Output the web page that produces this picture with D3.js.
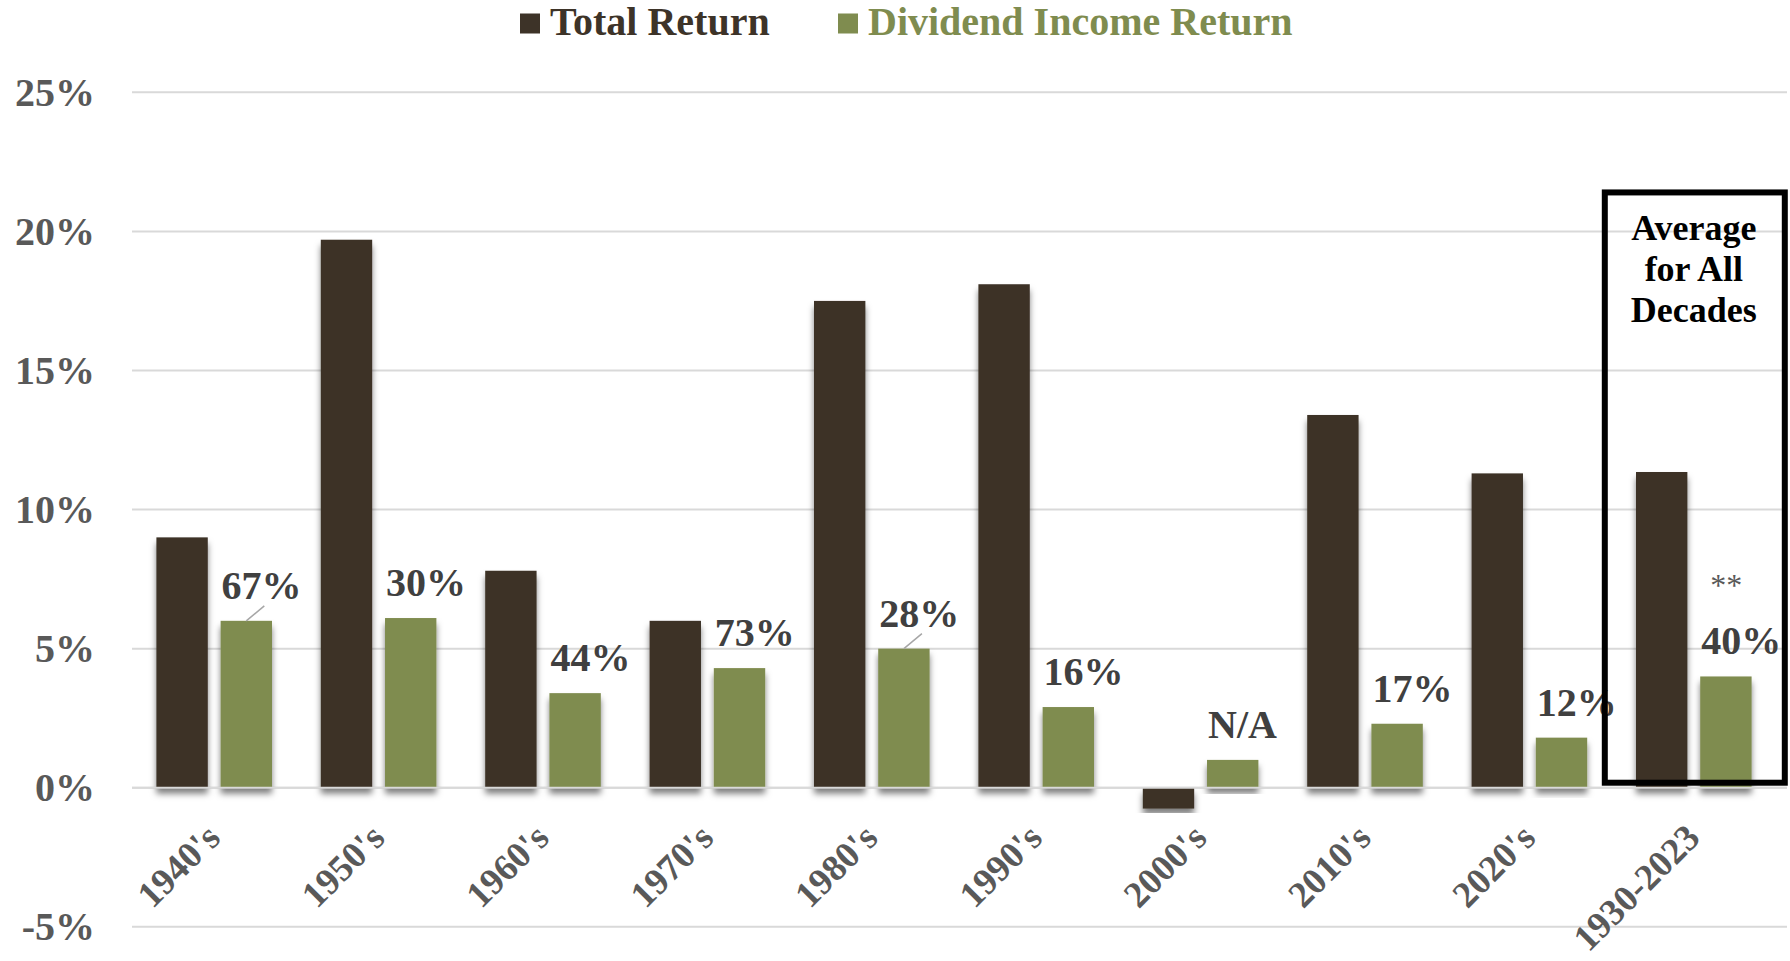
<!DOCTYPE html>
<html lang="en">
  <head>
    <meta charset="UTF-8" />
    <title>Total Return vs Dividend Income Return</title>
    <script src="https://d3js.org/d3.v7.min.js"></script>
    <style>
      body {
        margin: 0;
        background: #fff;
      }
      svg text {
        font-family: "Liberation Serif", "Times New Roman", serif;
        font-weight: bold;
      }
      .grid {
        stroke: #d9d9d9;
        stroke-width: 2;
      }
    </style>
  </head>

  <body>
    <svg width="1790" height="961"></svg>
    <script>
      // data
      const decades = ["1940's", "1950's", "1960's", "1970's", "1980's", "1990's", "2000's", "2010's", "2020's", "1930-2023"];
      const totalReturn = [9.0, 19.7, 7.8, 6.0, 17.5, 18.1, -0.75, 13.4, 11.3, 11.35];
      const dividendReturn = [6.0, 6.1, 3.4, 4.3, 5.0, 2.9, 1.0, 2.3, 1.8, 4.0];
      const dividendShare = ["67%", "30%", "44%", "73%", "28%", "16%", "N/A", "17%", "12%", "40%"];
      const yTicks = [-5, 0, 5, 10, 15, 20, 25];
      const seriesNames = ["Total Return", "Dividend Income Return"];
      const leaderLabels = ["1940's", "1980's"];
      const boxLines = ["Average", "for All", "Decades"];

      const colors = ["#3d3328", "#7f8c4f"];

      const svg = d3.select("svg"),
        width = +svg.attr("width"),
        height = +svg.attr("height");

      const rows = decades.map(function (d, i) {
        return { decade: d, values: [totalReturn[i], dividendReturn[i]], share: dividendShare[i] };
      });

      const x0 = d3.scaleBand().domain(decades).range([132, 1776]);
      const x1 = d3
        .scaleBand()
        .domain([0, 1])
        .range([24.4, x0.bandwidth() - 24.4])
        .paddingInner(0.2);
      const y = d3.scaleLinear().domain([-5, 25]).range([926.8, 92.3]);

      const defs = svg.append("defs");
      defs
        .append("filter")
        .attr("id", "shadow")
        .attr("x", "-30%")
        .attr("y", "-10%")
        .attr("width", "160%")
        .attr("height", "130%")
        .append("feDropShadow")
        .attr("dx", 0)
        .attr("dy", 6)
        .attr("stdDeviation", 3)
        .attr("flood-color", "#000")
        .attr("flood-opacity", 0.5);

      // gridlines
      svg
        .selectAll(".grid")
        .data(yTicks)
        .enter()
        .append("line")
        .attr("class", "grid")
        .attr("x1", 132)
        .attr("x2", 1787)
        .attr("y1", function (d) {
          return y(d);
        })
        .attr("y2", function (d) {
          return y(d);
        });

      // y labels
      svg
        .selectAll(".ylab")
        .data(yTicks)
        .enter()
        .append("text")
        .attr("class", "ylab")
        .attr("x", 95)
        .attr("y", function (d) {
          return y(d);
        })
        .attr("dy", "0.34em")
        .attr("text-anchor", "end")
        .attr("fill", "#595959")
        .style("font-size", "40px")
        .text(function (d) {
          return d + "%";
        });

      // bars
      const group = svg
        .selectAll(".group")
        .data(rows)
        .enter()
        .append("g")
        .attr("class", "group")
        .attr("transform", function (d) {
          return "translate(" + x0(d.decade) + ",0)";
        });

      group
        .selectAll("rect")
        .data(function (d) {
          return d.values;
        })
        .enter()
        .append("rect")
        .attr("x", function (d, i) {
          return x1(i);
        })
        .attr("width", x1.bandwidth())
        .attr("y", function (d) {
          return y(Math.max(0, d));
        })
        .attr("height", function (d) {
          return Math.abs(y(d) - y(0));
        })
        .attr("fill", function (d, i) {
          return colors[i];
        })
        .attr("filter", "url(#shadow)");

      // zero line over the bars
      svg
        .append("line")
        .attr("class", "grid")
        .attr("x1", 132)
        .attr("x2", 1787)
        .attr("y1", y(0))
        .attr("y2", y(0));

      // leader lines
      group
        .filter(function (d) {
          return leaderLabels.indexOf(d.decade) >= 0;
        })
        .append("line")
        .attr("x1", x1(1) + x1.bandwidth() / 2)
        .attr("x2", x1(1) + x1.bandwidth() / 2 + 18)
        .attr("y1", function (d) {
          return y(d.values[1]);
        })
        .attr("y2", function (d) {
          return y(d.values[1]) - 15;
        })
        .attr("stroke", "#a6a6a6")
        .attr("stroke-width", 1.5);

      // dividend share labels
      group
        .append("text")
        .attr("x", x1(1) + 1)
        .attr("y", function (d) {
          return y(d.values[1]) - 22;
        })
        .attr("fill", "#404040")
        .style("font-size", "40px")
        .text(function (d) {
          return d.share;
        });

      // x labels
      svg
        .selectAll(".xlab")
        .data(decades)
        .enter()
        .append("text")
        .attr("class", "xlab")
        .attr("text-anchor", "end")
        .attr("fill", "#595959")
        .style("font-size", "37px")
        .attr("transform", function (d) {
          return "translate(" + (x0(d) + x0.bandwidth() / 2 + 8) + "," + (y(0) + 52) + ") rotate(-45)";
        })
        .text(function (d) {
          return d;
        });

      // average box
      const last = decades[decades.length - 1];
      const cx = x0(last) + x0.bandwidth() / 2;
      const boxTop = y(21.4);
      svg
        .append("rect")
        .attr("x", cx - 89)
        .attr("y", boxTop)
        .attr("width", 180)
        .attr("height", y(0) - 5 - boxTop)
        .attr("fill", "none")
        .attr("stroke", "#000")
        .attr("stroke-width", 6);

      svg
        .selectAll(".boxline")
        .data(boxLines)
        .enter()
        .append("text")
        .attr("class", "boxline")
        .attr("x", cx)
        .attr("y", function (d, i) {
          return boxTop + 47.5 + i * 41;
        })
        .attr("text-anchor", "middle")
        .attr("fill", "#000")
        .style("font-size", "36px")
        .text(function (d) {
          return d;
        });

      // ** note above the last label
      svg
        .append("text")
        .attr("x", x0(last) + x1(1) + 26)
        .attr("y", y(dividendReturn[dividendReturn.length - 1]) - 80)
        .attr("text-anchor", "middle")
        .attr("fill", "#595959")
        .style("font-size", "32px")
        .style("font-weight", "normal")
        .text("**");

      // legend
      const legendX = [520, 838];
      const legend = svg
        .selectAll(".legend")
        .data(seriesNames)
        .enter()
        .append("g")
        .attr("class", "legend")
        .attr("transform", function (d, i) {
          return "translate(" + legendX[i] + ",0)";
        });

      legend
        .append("rect")
        .attr("y", 13.5)
        .attr("width", 20)
        .attr("height", 20)
        .attr("fill", function (d, i) {
          return colors[i];
        });

      legend
        .append("text")
        .attr("x", 30)
        .attr("y", 35)
        .attr("fill", function (d, i) {
          return colors[i];
        })
        .style("font-size", "40px")
        .text(function (d) {
          return d;
        });
    </script>
  </body>
</html>
